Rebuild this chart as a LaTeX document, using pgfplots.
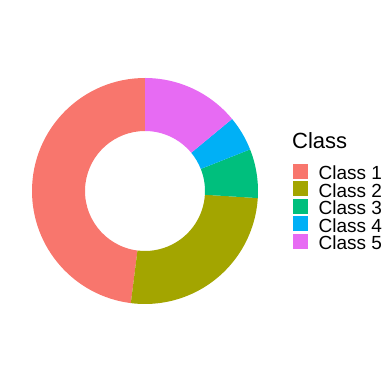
\documentclass[border=0pt]{standalone}
\usepackage{pgfplots}
\usepackage{pgfplotstable}
\pgfplotsset{compat=1.18}
\usepackage{fontspec}
\setmainfont{Liberation Sans}
\definecolor{c1}{HTML}{F8766D}
\definecolor{c2}{HTML}{A3A500}
\definecolor{c3}{HTML}{00BF7D}
\definecolor{c4}{HTML}{00B0F6}
\definecolor{c5}{HTML}{E76BF3}
\pgfplotstableread[col sep=comma]{
label,value
Class 1,48
Class 2,26
Class 3,7
Class 4,5
Class 5,14
}\pietable
\newcommand\donutsector[3]{%
  \fill[#1] (axis cs:145,191) ++(#2:113bp) arc[start angle=#2,end angle=#3,radius=113bp]
    -- ([shift={(#3:60bp)}]axis cs:145,191) arc[start angle=#3,end angle=#2,radius=60bp] -- cycle;}
\begin{document}
\begin{tikzpicture}
\pgfplotstablegetelem{0}{value}\of\pietable \let\vA\pgfplotsretval
\pgfplotstablegetelem{1}{value}\of\pietable \let\vB\pgfplotsretval
\pgfplotstablegetelem{2}{value}\of\pietable \let\vC\pgfplotsretval
\pgfplotstablegetelem{3}{value}\of\pietable \let\vD\pgfplotsretval
\pgfplotstablegetelem{4}{value}\of\pietable \let\vE\pgfplotsretval
\pgfmathsetmacro\aA{90}
\pgfmathsetmacro\aB{\aA+3.6*\vA}
\pgfmathsetmacro\aC{\aB+3.6*\vB}
\pgfmathsetmacro\aD{\aC+3.6*\vC}
\pgfmathsetmacro\aE{\aD+3.6*\vD}
\pgfmathsetmacro\aF{\aE+3.6*\vE}
\begin{axis}[
  at={(0,0)}, anchor=south west,
  scale only axis, width=382bp, height=382bp,
  xmin=0, xmax=382, ymin=0, ymax=382,
  hide axis, clip=false,
  legend cell align=left,
  legend image code/.code={\fill[#1] (0bp,-7bp) rectangle (13.5bp,7bp);},
  legend style={draw=none, fill=none, inner sep=0pt, row sep=0pt,
    at={(axis description cs:0.767,0.571)}, anchor=north west,
    font=\fontsize{19bp}{19bp}\selectfont,
    nodes={inner sep=0pt, text height=15.6bp, text depth=1.6bp, yshift=-8.6bp, anchor=base west},
    /tikz/every odd column/.append style={column sep=11.5bp}},
]
\donutsector{c1}{\aA}{\aB}
\donutsector{c2}{\aB}{\aC}
\donutsector{c3}{\aC}{\aD}
\donutsector{c4}{\aD}{\aE}
\donutsector{c5}{\aE}{\aF}
\addlegendimage{c1}\addlegendentry{Class 1}
\addlegendimage{c2}\addlegendentry{Class 2}
\addlegendimage{c3}\addlegendentry{Class 3}
\addlegendimage{c4}\addlegendentry{Class 4}
\addlegendimage{c5}\addlegendentry{Class 5}
\node[anchor=base west, inner sep=0pt, font=\fontsize{22bp}{22bp}\selectfont] at (axis cs:292,233.7) {Class};
\end{axis}
\pgfresetboundingbox
\path[use as bounding box] (0,0) rectangle (382bp,382bp);
\end{tikzpicture}
\end{document}
